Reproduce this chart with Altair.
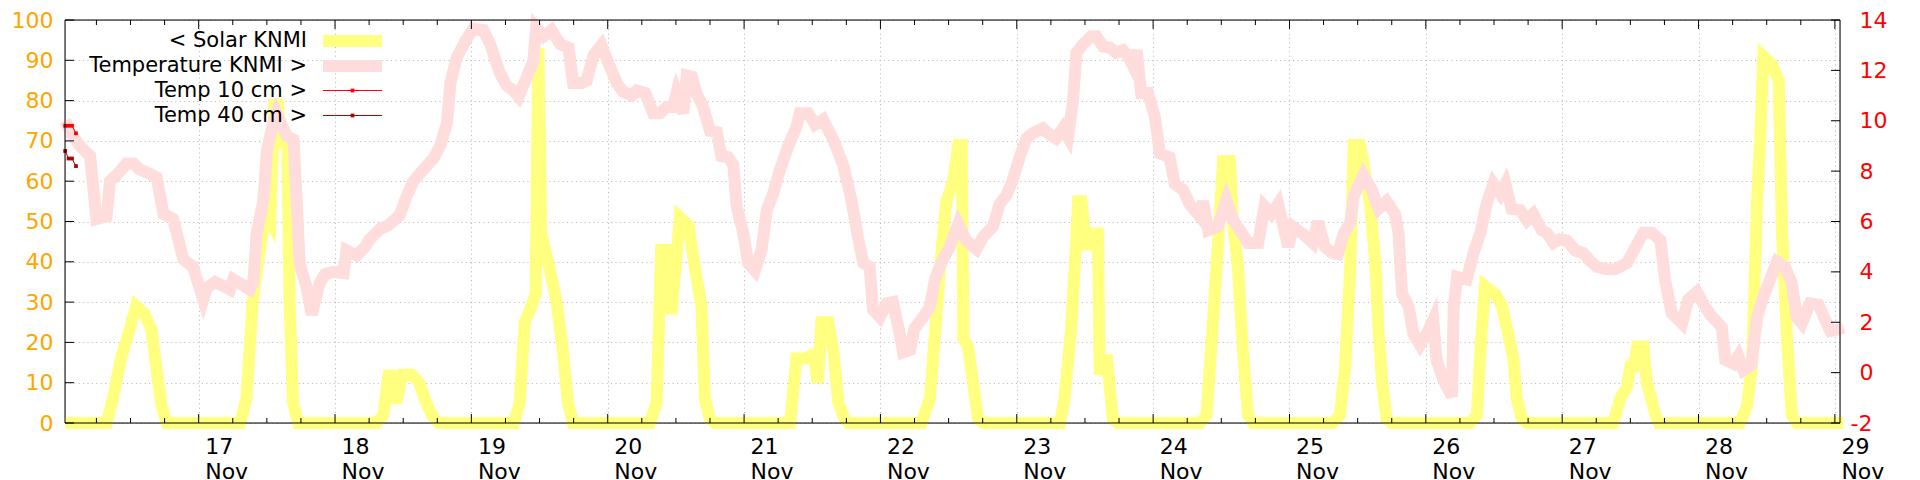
import altair as alt
import pandas as pd

# ---------------- data (hours since 16 Nov 00:00) ----------------
solar_h = [0.5, 7.8, 8.9, 10.3, 11.8, 13.0, 14.5, 15.7, 16.6, 17.5, 18.4,
           31.3, 32.4, 33.5, 34.8, 35.8, 36.6, 37.3, 38.0, 38.5, 38.9, 39.6, 40.0, 40.6, 41.5,
           55.3, 56.5, 57.5, 58.8, 59.8, 61.5, 62.8, 63.8, 65.0, 66.2,
           79.5, 80.5, 81.4, 82.6, 83.3, 83.8, 84.3, 85.5, 87.0, 88.1, 89.0, 89.9,
           103.4, 104.6, 105.4, 106.5, 107.2, 108.7, 110.2, 111.4, 112.5, 113.1, 114.0, 114.9,
           128.1, 129.2, 130.7, 132.2, 133.0, 133.6, 134.8, 135.7, 136.6, 137.7, 138.3,
           151.2, 152.7, 153.6, 154.7, 155.6, 156.8, 157.7, 158.3, 158.6, 159.4, 160.3, 161.2, 162.1,
           175.6, 176.4, 177.6, 178.2, 178.8, 179.4, 180.2, 180.8, 182.3, 182.6, 183.8, 184.9, 185.8,
           200.2, 201.4, 202.2, 203.4, 204.3, 205.5, 206.1, 206.9, 207.8, 208.7, 209.6,
           223.6, 224.9, 225.8, 226.7, 227.3, 228.4, 229.3, 230.2, 231.1, 231.7, 232.3, 233.1, 234.0,
           247.8, 249.0, 249.6, 250.4, 252.2, 253.4, 254.5, 255.4, 256.0, 256.9, 257.8,
           273.0, 274.2, 275.4, 276.0, 276.6, 277.2, 278.3, 278.9, 279.5, 280.4, 281.0,
           295.3, 296.5, 297.4, 298.3, 298.9, 299.4, 300.9, 302.1, 302.7, 303.5, 304.4, 305.3, 313.5]
solar_v = [0, 0, 6, 16, 23, 29, 27, 23, 13, 4, 0,
           0, 6, 30, 43, 52, 50, 79, 79, 68, 71, 70, 30, 5, 0,
           0, 2, 13, 5, 12, 12, 10, 6, 2, 0,
           0, 5, 25, 29, 32, 93, 47, 40, 30, 18, 5, 0,
           0, 5, 43, 43, 27, 51, 49, 38, 29, 6, 1, 0,
           0, 16, 16, 17, 10, 25, 25, 18, 5, 1, 0,
           0, 6, 22, 42, 55, 60, 69, 69, 21, 19, 10, 1, 0,
           0, 6, 24, 39, 55, 55, 43, 47, 47, 12, 17, 1, 0,
           0, 2, 18, 44, 65, 65, 49, 39, 18, 2, 0,
           0, 2, 14, 39, 69, 69, 62, 54, 40, 22, 10, 1, 0,
           0, 2, 18, 34, 32, 29, 22, 16, 6, 1, 0,
           0, 6, 9, 14, 14, 19, 19, 10, 7, 2, 0,
           0, 4, 14, 55, 72, 91, 89, 85, 47, 23, 2, 0, 0]

temp_h = [0.5, 1.5, 3.1, 4.9, 6.0, 7.8, 8.4, 9.6, 11.3, 12.5, 13.7, 15.4, 16.6, 17.8, 19.5,
          21.3, 23.0, 24.8, 25.4, 26.9, 28.3, 29.5, 30.1, 31.6, 33.0, 33.6, 34.2, 35.4, 36.0,
          37.1, 37.7, 38.3, 39.5, 40.7, 41.8, 43.0, 43.9, 45.3, 46.2, 47.7, 49.5, 50.0, 51.8,
          53.3, 54.1, 55.9, 57.4, 59.4, 60.6, 61.8, 63.5, 65.3, 66.5, 67.7, 68.3, 69.4, 70.9,
          72.3, 74.1, 75.3, 77.0, 78.2, 79.4, 80.3, 81.7, 82.9, 83.4, 84.7, 86.1, 87.6, 89.1,
          89.9, 91.4, 92.3, 93.5, 94.9, 96.1, 97.6, 98.7, 100.2, 101.1, 102.6, 104.0, 105.2,
          106.4, 107.5, 108.1, 109.3, 109.9, 110.8, 111.6, 112.8, 114.0, 115.2, 116.0, 117.2,
          118.1, 118.7, 119.9, 120.7, 121.9, 123.1, 124.0, 125.1, 126.3, 127.8, 129.2, 129.8,
          131.3, 132.5, 133.9, 135.7, 137.5, 138.9, 140.1, 141.0, 142.1, 142.7, 143.9, 145.1,
          146.2, 147.4, 148.0, 149.2, 150.0, 151.5, 152.7, 153.6, 154.7, 156.2, 157.7, 159.1,
          160.9, 162.1, 163.8, 165.0, 166.2, 167.3, 168.5, 169.7, 170.8, 172.6, 173.8, 174.9,
          176.1, 177.0, 177.9, 178.5, 179.7, 181.1, 182.0, 183.2, 184.4, 185.5, 186.7, 187.6,
          188.5, 189.1, 189.9, 191.1, 192.3, 193.2, 194.9, 195.8, 197.3, 198.4, 200.2, 200.8,
          201.7, 203.4, 204.9, 206.1, 207.3, 208.7, 210.5, 211.6, 212.8, 214.0, 215.8, 216.6,
          218.1, 220.1, 221.0, 222.2, 223.5, 224.5, 225.5, 226.7, 227.3, 229.0, 230.5, 231.7,
          233.1, 234.6, 235.2, 235.8, 237.0, 237.8, 239.0, 240.2, 241.3, 241.9, 243.1, 244.6,
          244.9, 245.5, 247.2, 248.4, 249.6, 250.7, 251.9, 253.1, 254.0, 255.1, 256.6, 257.8,
          258.9, 260.4, 261.3, 262.5, 263.6, 264.8, 266.3, 267.7, 268.9, 270.1, 271.8, 273.3,
          275.4, 276.6, 278.3, 279.8, 281.3, 282.1, 283.3, 285.1, 286.2, 287.7, 289.2, 290.1,
          290.9, 292.1, 292.7, 294.2, 295.0, 295.9, 297.3, 298.3, 299.4, 300.6, 301.8, 303.2,
          304.4, 305.3, 306.2, 307.6, 309.1, 310.3, 311.2, 312.3, 313.5]
temp_v = [10.0, 9.5, 9.0, 8.6, 6.1, 6.2, 7.6, 7.85, 8.3, 8.3, 8.05, 7.9, 7.75, 6.3, 6.1,
          4.5, 4.2, 2.9, 3.35, 3.6, 3.45, 3.3, 3.7, 3.5, 3.3, 3.55, 5.5, 6.85, 8.8,
          9.9, 10.3, 10.0, 9.4, 9.25, 4.3, 3.4, 2.3, 3.55, 3.9, 4.0, 3.95, 4.85, 4.65,
          5.0, 5.3, 5.7, 5.85, 6.25, 7.0, 7.6, 8.05, 8.5, 9.0, 9.9, 11.5, 12.5, 13.15,
          13.65, 13.6, 13.05, 11.9, 11.4, 11.2, 10.95, 11.7, 12.35, 13.7, 13.35, 13.6, 13.05, 12.9,
          11.5, 11.5, 11.6, 12.6, 13.0, 12.3, 11.5, 11.15, 11.0, 11.2, 11.1, 10.3, 10.3,
          10.55, 10.55, 11.1, 10.3, 11.8, 11.75, 11.1, 10.55, 9.6, 9.55, 8.6, 8.55,
          8.25, 6.6, 5.5, 4.35, 4.05, 4.9, 6.45, 7.1, 8.05, 9.0, 9.75, 10.3,
          10.3, 9.85, 10.05, 9.25, 8.2, 6.85, 5.3, 4.35, 4.2, 2.5, 2.2, 2.75,
          2.8, 1.55, 0.8, 0.9, 1.75, 2.2, 2.6, 3.7, 4.35, 5.0, 5.9, 5.25,
          4.9, 5.4, 5.8, 6.7, 7.05, 7.65, 8.55, 9.3, 9.5, 9.7, 9.45, 9.3,
          9.7, 9.35, 10.8, 12.7, 13.05, 13.35, 13.35, 12.95, 12.9, 12.7, 12.8, 12.55,
          12.15, 12.8, 11.1, 11.1, 10.15, 8.7, 8.55, 7.5, 7.25, 6.7, 6.2, 6.8,
          5.65, 5.8, 6.85, 6.05, 5.65, 5.15, 5.15, 6.6, 6.3, 6.7, 5.0, 5.8,
          5.55, 5.15, 6.0, 5.0, 4.75, 4.7, 5.5, 5.95, 7.0, 7.85, 7.25, 6.5,
          6.8, 6.3, 5.55, 3.15, 2.6, 1.55, 1.1, 1.55, 2.1, 0.5, -0.3, -0.95,
          2.6, 3.8, 3.7, 4.75, 5.55, 6.7, 7.5, 7.1, 7.5, 6.5, 6.45, 6.05,
          6.3, 5.65, 5.55, 5.15, 5.3, 5.25, 4.85, 4.75, 4.45, 4.2, 4.1, 4.1,
          4.35, 4.85, 5.55, 5.55, 5.25, 3.7, 2.35, 1.95, 2.9, 3.2, 2.6, 2.3,
          2.1, 1.8, 0.5, 0.35, 0.65, 0.1, 0.3, 2.2, 3.0, 3.7, 4.4, 4.2,
          3.55, 2.2, 1.95, 2.75, 2.7, 2.1, 1.65, 1.7, 1.8]

t10_h = [0.5, 1.1, 1.7, 2.4]
t10_v = [9.8, 9.8, 9.8, 9.5]
t40_h = [0.5, 1.1, 1.7, 2.4]
t40_v = [8.8, 8.5, 8.5, 8.2]

day_ticks = list(range(24, 313, 24))
minor_ticks = [h for h in range(6, 313, 6) if h % 24]
left_ticks = list(range(0, 101, 10))
right_ticks = list(range(-2, 15, 2))

legend_labels = ["< Solar KNMI", "Temperature KNMI >", "Temp 10 cm >", "Temp 40 cm >"]
legend_colors = ["#ffff80", "#ffdddd", "#ff0000", "#b00000"]
legend_widths = [12, 12, 1, 1]

# ---------------- layout ----------------
W, H = 1775, 403
FONT = "DejaVu Sans"
FS = 22
X_DOMAIN = [0.47, 312.9]
GRID = dict(grid=True, gridColor="#b4b4b4", gridDash=[1, 3.4], gridWidth=1)

xs = alt.Scale(domain=X_DOMAIN, nice=False, zero=False)
ys_left = alt.Scale(domain=[0, 100], nice=False, zero=False)
ys_right = alt.Scale(domain=[-2, 14], nice=False, zero=False)

df_solar = pd.DataFrame({"h": solar_h, "v": solar_v})
df_temp = pd.DataFrame({"h": temp_h, "T": temp_v})
df_t10 = pd.DataFrame({"h": t10_h, "T": t10_v})
df_t40 = pd.DataFrame({"h": t40_h, "T": t40_v})
df_major = pd.DataFrame({"h": day_ticks})
df_minor = pd.DataFrame({"h": minor_ticks})
df_lt = pd.DataFrame({"v": left_ticks})
df_rt = pd.DataFrame({"T": right_ticks})
one = pd.DataFrame({"a": [0]})

x_axis = alt.Axis(values=day_ticks, **GRID, domain=False, ticks=False, tickSize=0,
                  labelExpr="['' + (floor(datum.value / 24) + 16), 'Nov']",
                  labelAlign="left", labelOffset=6, labelBaseline="alphabetic",
                  labelPadding=30, labelLineHeight=25, labelFont=FONT, labelFontSize=FS,
                  labelColor="black", labelFlush=False, labelOverlap=False, title=None)
X = alt.X("h:Q", scale=xs, axis=x_axis)

left_axis = alt.Axis(orient="left", values=left_ticks, **GRID, domain=False, ticks=False,
                     tickSize=0, labelPadding=12, labelFont=FONT, labelFontSize=FS,
                     labelColor="#ffa500", labelBaseline="middle", title=None)
right_axis = alt.Axis(orient="right", values=right_ticks, grid=False, domain=False, ticks=False,
                      tickSize=0,
                      labelPadding={"condition": {"test": "datum.value < 0", "value": 10},
                                    "value": 19},
                      labelExpr="'' + datum.value",
                      labelFont=FONT, labelFontSize=FS,
                      labelColor="#ff0000", labelAlign="left", labelBaseline="middle", title=None)
YR = alt.Y("T:Q", scale=ys_right, axis=right_axis)

solar = alt.Chart(df_solar).mark_line(color="#ffff80", strokeWidth=12, strokeJoin="miter",
                                      strokeCap="butt").encode(
    x=X, y=alt.Y("v:Q", scale=ys_left, axis=left_axis))

temp = alt.Chart(df_temp).mark_line(color="#ffdddd", strokeWidth=12, strokeJoin="miter",
                                    strokeCap="butt").encode(x=X, y=YR)

def sensor(df, color):
    return alt.Chart(df).mark_line(color=color, strokeWidth=1,
                                   point=alt.OverlayMarkDef(shape="square", size=14,
                                                            color=color, filled=True)).encode(
        x=X, y=YR)

t10 = sensor(df_t10, legend_colors[2])
t40 = sensor(df_t40, legend_colors[3])

rticks = alt.Chart(df_rt).mark_rule(color="black", strokeWidth=1).encode(
    y=YR, x=alt.value(W - 9), x2=alt.value(W))
lticks = alt.Chart(df_lt).mark_rule(color="black", strokeWidth=1).encode(
    y=alt.Y("v:Q", scale=ys_left, axis=None), x=alt.value(0), x2=alt.value(9))

left_group = alt.layer(solar)
right_group = alt.layer(temp, t10, t40, rticks)
left_tick_group = alt.layer(lticks)

def xtick(df, y0, y1):
    return alt.Chart(df).mark_rule(color="black", strokeWidth=1).encode(
        x=X, y=alt.value(y0), y2=alt.value(y1))

xt = [xtick(df_major, H, H - 9), xtick(df_major, 0, 9),
      xtick(df_minor, H, H - 5), xtick(df_minor, 0, 5)]

border = alt.Chart(one).mark_rect(filled=False, stroke="black", strokeWidth=1).encode(
    x=alt.value(0), x2=alt.value(W), y=alt.value(0), y2=alt.value(H))

legend_layers = []
row_y = [21, 46, 70.5, 95.5]
for i, lab in enumerate(legend_labels):
    legend_layers.append(alt.Chart(pd.DataFrame({"label": [lab]})).mark_text(
        align="right", baseline="middle", font=FONT, fontSize=21, color="black").encode(
        x=alt.value(242), y=alt.value(row_y[i]), text="label:N"))
    legend_layers.append(alt.Chart(one).mark_rule(
        color=legend_colors[i], strokeWidth=legend_widths[i], strokeCap="butt").encode(
        x=alt.value(258), x2=alt.value(317), y=alt.value(row_y[i])))
    if legend_widths[i] == 1:
        legend_layers.append(alt.Chart(one).mark_square(
            color=legend_colors[i], size=14, filled=True, opacity=1).encode(
            x=alt.value(287.5), y=alt.value(row_y[i])))

chart = alt.layer(left_group, right_group, left_tick_group, border, *xt, *legend_layers).resolve_scale(
    y="independent").properties(
    width=W, height=H,
    autosize=alt.AutoSizeParams(type="none"),
    padding={"left": 57, "top": 12, "right": 60, "bottom": 60},
).configure_view(stroke=None).configure(background="white")

chart.save("out.html", embed_options={"renderer": "svg", "actions": False})
